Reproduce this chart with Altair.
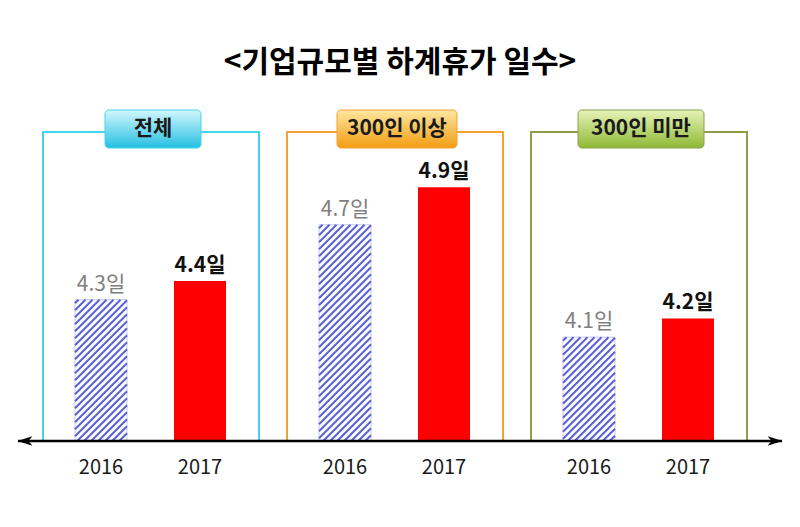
import altair as alt
import pandas as pd

# ---------------- data ----------------
TITLE = "<기업규모별 하계휴가 일수>"
groups = ["전체", "300인 이상", "300인 미만"]
years = ["2016", "2017"]
v2016 = [4.3, 4.7, 4.1]
v2017 = [4.4, 4.9, 4.2]

# ---------------- style / layout ----------------
FONT = "Noto Sans CJK KR"
frame_colors = ["#44d4ee", "#f4a234", "#8c9e4c"]
box_grads = [("#d2f7fd", "#25bfe2"), ("#ffe7a0", "#f19d12"), ("#e6f3b8", "#8fb935")]
box_widths_px = [96, 120, 126]

W, H = 784, 511
XU = 244.0          # px per group
X0 = 143.0          # plot-px centre of first group
YBASE_PX = 433.0    # plot-px of baseline
YU = 187.4          # px per day
YBASE = 3.546       # value at baseline


def xd(px):
    return (px - X0) / XU


def xpx(x):
    return X0 + x * XU


def yd(py):
    return YBASE + (YBASE_PX - py) / YU


def ypx(y):
    return YBASE_PX - (y - YBASE) * YU


x_scale = alt.Scale(domain=[xd(0), xd(W)], nice=False, zero=False)
y_scale = alt.Scale(domain=[yd(H), yd(0)], nice=False, zero=False)


def X(f):
    return alt.X(f, type="quantitative", scale=x_scale, axis=None)


def Y(f):
    return alt.Y(f, type="quantitative", scale=y_scale, axis=None)


BAR_OFF = {"2016": -50.0, "2017": 49.0}
BAR_HALF = 26.0

rows = []
for gi, g in enumerate(groups):
    for yr, vals in zip(years, [v2016, v2017]):
        v = vals[gi]
        c = gi + BAR_OFF[yr] / XU
        rows.append(dict(group=g, year=yr, value=v, label=f"{v}일",
                         xc=c, xl=c - BAR_HALF / XU, xr=c + BAR_HALF / XU,
                         base=YBASE, ylab=yd(YBASE_PX + 27)))
bars = pd.DataFrame(rows)
b16 = bars[bars.year == "2016"]
b17 = bars[bars.year == "2017"]

# hatch lines for 2016 bars (////)
hatch = []
S = 7.0
for _, r in b16.iterrows():
    xl, xr = xpx(r.xl), xpx(r.xr)
    yt, yb = ypx(r.value), YBASE_PX
    c = xl + yt + S / 2
    while c < xr + yb:
        y1 = min(yb, c - xl)
        y2 = max(yt, c - xr)
        if y1 > y2:
            hatch.append(dict(x=xd(c - y1), y=yd(y1), x2=xd(c - y2), y2=yd(y2)))
        c += S
hatch = pd.DataFrame(hatch)

# panel frames
frames = pd.DataFrame(dict(group=groups,
                           xl=[i - 108 / XU for i in range(3)],
                           xr=[i + 108 / XU for i in range(3)],
                           yt=[yd(124)] * 3, yb=[YBASE] * 3))

layers = []

layers.append(alt.Chart(frames).mark_rect(fillOpacity=0, strokeWidth=2).encode(
    x=X("xl"), x2="xr", y=Y("yt"), y2="yb",
    stroke=alt.Stroke("group:N", scale=alt.Scale(domain=groups, range=frame_colors), legend=None)))

# label boxes
for gi, g in enumerate(groups):
    bw = box_widths_px[gi] / 2
    cx = gi + 2 / XU
    d = pd.DataFrame(dict(group=[g], xl=[cx - bw / XU], xr=[cx + bw / XU],
                          yt=[yd(102)], yb=[yd(140)], xc=[cx], yc=[yd(121)]))
    layers.append(alt.Chart(d).mark_rect(color="#7a7a7a", opacity=0.45, cornerRadius=4,
                                         xOffset=2, yOffset=3).encode(
        x=X("xl"), x2="xr", y=Y("yt"), y2="yb"))
    top, bot = box_grads[gi]
    grad = alt.Gradient(gradient="linear",
                        stops=[alt.GradientStop(color=top, offset=0),
                               alt.GradientStop(color=bot, offset=1)],
                        x1=0, x2=0, y1=0, y2=1)
    layers.append(alt.Chart(d).mark_rect(color=grad, cornerRadius=4,
                                         stroke=frame_colors[gi], strokeWidth=1).encode(
        x=X("xl"), x2="xr", y=Y("yt"), y2="yb"))
    layers.append(alt.Chart(d).mark_text(font=FONT, fontSize=21, fontWeight="bold",
                                         color="#1a1a1a", baseline="middle").encode(
        x=X("xc"), y=Y("yc"), text="group:N"))

# 2016 bars: white with blue hatch
layers.append(alt.Chart(b16).mark_rect(color="white", stroke="#c5c9f2", strokeWidth=1).encode(
    x=X("xl"), x2="xr", y=Y("value"), y2="base"))
layers.append(alt.Chart(hatch).mark_rule(color="#5a60d8", strokeWidth=2).encode(
    x=X("x"), x2="x2", y=Y("y"), y2="y2"))

# 2017 bars: red
layers.append(alt.Chart(b17).mark_rect(color="#ff0000").encode(
    x=X("xl"), x2="xr", y=Y("value"), y2="base"))

# value labels
layers.append(alt.Chart(b16).mark_text(font=FONT, fontSize=21, color="#808080",
                                       baseline="bottom", dy=-5).encode(
    x=X("xc"), y=Y("value"), text="label:N"))
layers.append(alt.Chart(b17).mark_text(font=FONT, fontSize=21, fontWeight="bold", color="#111111",
                                       baseline="bottom", dy=-5).encode(
    x=X("xc"), y=Y("value"), text="label:N"))

# year labels
layers.append(alt.Chart(bars).mark_text(font=FONT, fontSize=20, color="#1a1a1a",
                                        baseline="middle").encode(
    x=X("xc"), y=Y("ylab"), text="year:N"))

# baseline axis with arrows
axis_df = pd.DataFrame(dict(xa=[xd(10)], xb=[xd(774)], y=[YBASE]))
layers.append(alt.Chart(axis_df).mark_rule(color="black", strokeWidth=2.5).encode(
    x=X("xa"), x2="xb", y=Y("y")))
arrows = pd.DataFrame(dict(x=[xd(10 + 7), xd(774 - 7)], y=[YBASE, YBASE], side=["L", "R"]))
layers.append(alt.Chart(arrows[arrows.side == "L"]).mark_point(
    shape="M -1 0 L 1 -0.65 L 0.45 0 L 1 0.65 Z", size=220, filled=True, color="black", opacity=1).encode(
    x=X("x"), y=Y("y")))
layers.append(alt.Chart(arrows[arrows.side == "R"]).mark_point(
    shape="M 1 0 L -1 -0.65 L -0.45 0 L -1 0.65 Z", size=220, filled=True, color="black", opacity=1).encode(
    x=X("x"), y=Y("y")))

# title
layers.append(alt.Chart(pd.DataFrame(dict(t=[TITLE]))).mark_text(
    font=FONT, fontSize=30, fontWeight="bold", color="black", baseline="middle").encode(
    x=alt.value(392), y=alt.value(55), text="t:N"))

chart = alt.layer(*layers).properties(
    width=W, height=H, padding=0,
    autosize=alt.AutoSizeParams(type="none"),
    background="white",
).configure_view(stroke=None)

chart.save("out.html", embed_options={"renderer": "svg", "actions": False})
